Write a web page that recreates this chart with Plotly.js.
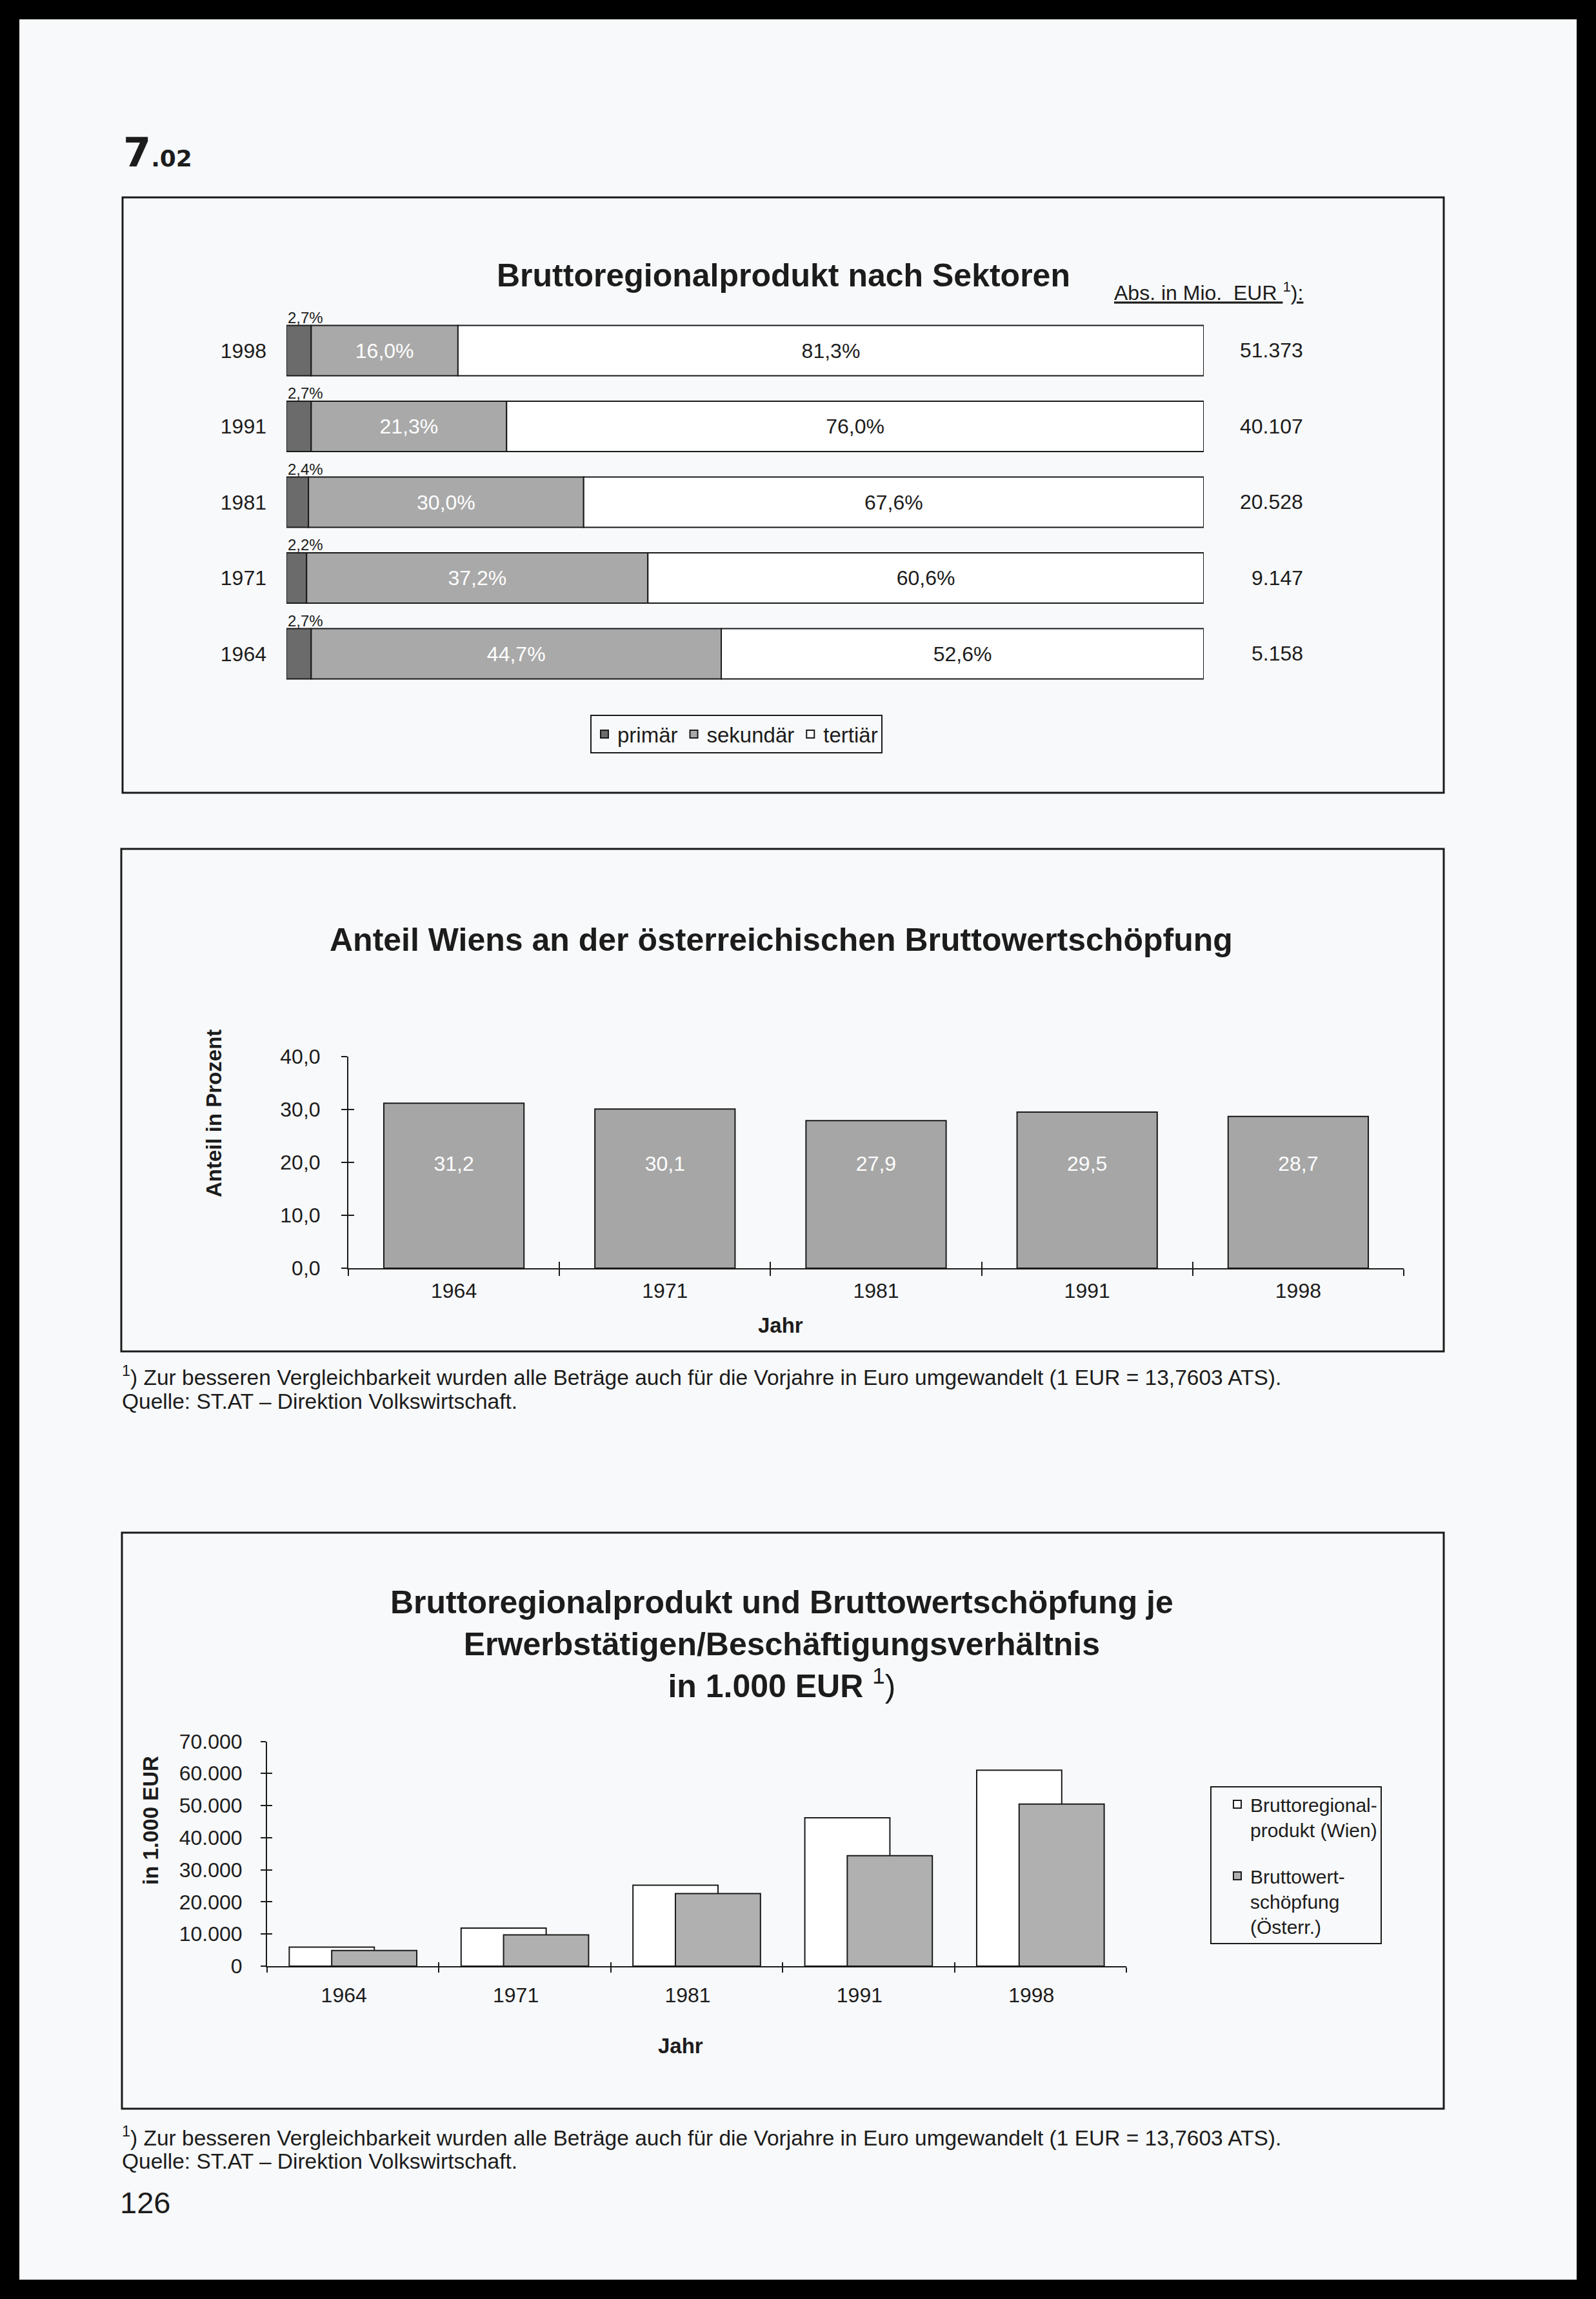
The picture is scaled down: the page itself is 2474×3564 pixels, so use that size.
<!DOCTYPE html>
<html>
<head>
<meta charset="utf-8">
<script src="https://cdn.plot.ly/plotly-3.0.1.min.js"></script>
<style>
  html, body { margin: 0; padding: 0; background: #f8f9fa; }
  #chart { width: 2474px; height: 3564px; }
</style>
</head>
<body>
<div id="chart"></div>
<script>
// ---------- DATA ----------
// Chart 1: Bruttoregionalprodukt nach Sektoren (shares in %)
const sectorYears = ['1964', '1971', '1981', '1991', '1998'];
const primaer   = [2.7, 2.2, 2.4, 2.7, 2.7];
const sekundaer = [44.7, 37.2, 30.0, 21.3, 16.0];
const tertiaer  = [52.6, 60.6, 67.6, 76.0, 81.3];
const absMioEur = [5158, 9147, 20528, 40107, 51373];
const sectorNames = ['primär', 'sekundär', 'tertiär'];

// Chart 2: Anteil Wiens an der österreichischen Bruttowertschöpfung (%)
const anteilYears = ['1964', '1971', '1981', '1991', '1998'];
const anteilWien  = [31.2, 30.1, 27.9, 29.5, 28.7];

// Chart 3: BRP und BWS je Erwerbstätigen (in 1.000 EUR)
const brpYears   = ['1964', '1971', '1981', '1991', '1998'];
const brpWien    = [5950, 11830, 25200, 46190, 61030];
const bwsOesterr = [4880, 9760, 22590, 34420, 50470];
const brpNames = ['Bruttoregional-<br>produkt (Wien)', 'Bruttowert-<br>schöpfung<br>(Österr.)'];

// ---------- HELPERS ----------
const W = 2474, H = 3564;
const px = v => v / W;
const py = v => 1 - v / H;
const FONT = 'Liberation Sans, Arial, Helvetica, sans-serif';
const INK = '#1c1c1c';
function fmtNum(v, dec) {
  const s = v.toFixed(dec);
  let [i, f] = s.split('.');
  i = i.replace(/\B(?=(\d{3})+(?!\d))/g, '.');
  return f ? i + ',' + f : i;
}
const LABEL_LEVEL = 19.4; // label height inside chart-2 bars (style)

// ---------- TRACES ----------
const base2 = primaer;
const base3 = primaer.map((p, i) => p + sekundaer[i]);
const barLine = { color: '#1a1a1a', width: 2 };

const traces = [
  // chart 1
  { type: 'bar', orientation: 'h', y: sectorYears, x: primaer, name: sectorNames[0],
    xaxis: 'x', yaxis: 'y', legend: 'legend',
    marker: { color: '#6b6b6b', line: barLine }, hoverinfo: 'skip' },
  { type: 'bar', orientation: 'h', y: sectorYears, x: sekundaer, base: base2, name: sectorNames[1],
    xaxis: 'x', yaxis: 'y', legend: 'legend',
    text: sekundaer.map(v => fmtNum(v, 1) + '%'), textposition: 'inside', insidetextanchor: 'middle',
    textangle: 0, constraintext: 'none', textfont: { color: '#ffffff', size: 32, family: FONT },
    marker: { color: '#a9a9a9', line: barLine }, hoverinfo: 'skip' },
  { type: 'bar', orientation: 'h', y: sectorYears, x: tertiaer, base: base3, name: sectorNames[2],
    xaxis: 'x', yaxis: 'y', legend: 'legend',
    text: tertiaer.map(v => fmtNum(v, 1) + '%'), textposition: 'inside', insidetextanchor: 'middle',
    textangle: 0, constraintext: 'none', textfont: { color: INK, size: 32, family: FONT },
    marker: { color: '#ffffff', line: barLine }, hoverinfo: 'skip' },
  // chart 2
  { type: 'bar', x: anteilYears, y: anteilWien, xaxis: 'x2', yaxis: 'y2', showlegend: false,
    marker: { color: '#a6a6a6', line: barLine }, hoverinfo: 'skip' },
  { type: 'scatter', mode: 'text', x: anteilYears, y: anteilYears.map(() => LABEL_LEVEL),
    text: anteilWien.map(v => fmtNum(v, 1)), textposition: 'middle center',
    textfont: { color: '#ffffff', size: 32, family: FONT },
    xaxis: 'x4', yaxis: 'y4', showlegend: false, hoverinfo: 'skip' },
  // chart 3
  { type: 'bar', x: brpYears, y: brpWien, name: brpNames[0], xaxis: 'x3', yaxis: 'y3',
    legend: 'legend2', legendgroup: 'a', width: 0.495, offset: -0.371,
    marker: { color: '#ffffff', line: barLine }, hoverinfo: 'skip' },
  { type: 'bar', x: brpYears, y: bwsOesterr, name: brpNames[1], xaxis: 'x5', yaxis: 'y5',
    legend: 'legend2', legendgroup: 'b', width: 0.495, offset: -0.124,
    marker: { color: '#b0b0b0', line: barLine }, hoverinfo: 'skip' }
];

// ---------- AXES ----------
const noAx = { showgrid: false, zeroline: false, showline: false, ticks: '', showticklabels: false };
const axLine = { showline: true, linecolor: '#1a1a1a', linewidth: 2, showgrid: false, zeroline: false,
                 tickcolor: '#1a1a1a', tickwidth: 2, tickfont: { size: 32, family: FONT, color: INK } };

const layout = {
  width: W, height: H,
  margin: { l: 0, r: 0, t: 0, b: 0, pad: 0 },
  paper_bgcolor: '#f8f9fa', plot_bgcolor: 'rgba(0,0,0,0)',
  font: { family: FONT, color: INK, size: 32 },
  separators: ',.',
  barmode: 'overlay', bargap: 0.336,
  hovermode: false,
  // chart 1
  xaxis: Object.assign({}, noAx, { domain: [px(444), px(1866)], range: [0, 100], autorange: false, anchor: 'y' }),
  yaxis: { domain: [py(1072.25), py(484.75)], anchor: 'x', type: 'category',
           categoryorder: 'array', categoryarray: sectorYears,
           range: [-0.5, sectorYears.length - 0.5], autorange: false,
           showgrid: false, zeroline: false, showline: false, ticks: '', ticklabelstandoff: 30,
           tickfont: { size: 32, family: FONT, color: INK } },
  // chart 2
  xaxis2: Object.assign({}, axLine, { domain: [px(540), px(2176)], anchor: 'y2', type: 'category',
           categoryarray: anteilYears, tickson: 'boundaries', ticks: 'outside', ticklen: 10, ticklabelstandoff: 6 }),
  yaxis2: Object.assign({}, axLine, { domain: [py(1966), py(1638)], anchor: 'x2', range: [0, 40],
           tick0: 0, dtick: 10, tickformat: '.1f', ticks: 'outside', ticklen: 9, ticklabelstandoff: 26 }),
  xaxis4: Object.assign({}, noAx, { overlaying: 'x2', matches: 'x2', anchor: 'y4', type: 'category',
           categoryarray: anteilYears, tickson: 'boundaries', ticks: 'inside', ticklen: 10, tickwidth: 2, tickcolor: '#1a1a1a' }),
  yaxis4: Object.assign({}, noAx, { overlaying: 'y2', matches: 'y2', anchor: 'x4',
           tick0: 0, dtick: 10, ticks: 'inside', ticklen: 9, tickwidth: 2, tickcolor: '#1a1a1a' }),
  // chart 3
  xaxis3: Object.assign({}, axLine, { domain: [px(414), px(1746)], anchor: 'y3', type: 'category',
           categoryarray: brpYears, tickson: 'boundaries', ticks: 'outside', ticklen: 8, ticklabelstandoff: 16,
           ticklabelshift: -14 }),
  yaxis3: Object.assign({}, axLine, { domain: [py(3048), py(2699.5)], anchor: 'x3', range: [0, 70000],
           tick0: 0, dtick: 10000, tickformat: ',d', ticks: 'outside', ticklen: 8, ticklabelstandoff: 22 }),
  xaxis5: Object.assign({}, noAx, { overlaying: 'x3', matches: 'x3', anchor: 'y5', type: 'category',
           categoryarray: brpYears, tickson: 'boundaries', ticks: 'inside', ticklen: 6, tickwidth: 2, tickcolor: '#1a1a1a' }),
  yaxis5: Object.assign({}, noAx, { overlaying: 'y3', matches: 'y3', anchor: 'x5',
           tick0: 0, dtick: 10000, ticks: 'inside', ticklen: 8, tickwidth: 2, tickcolor: '#1a1a1a' }),
  // legends
  legend: { x: px(915), y: py(1138), xanchor: 'left', yanchor: 'middle', orientation: 'h',
            bgcolor: 'rgba(0,0,0,0)', bordercolor: '#1a1a1a', borderwidth: 2,
            font: { size: 33, family: FONT, color: INK } },
  legend2: { x: px(1876), y: py(2769), xanchor: 'left', yanchor: 'top', orientation: 'v',
             valign: 'top', traceorder: 'grouped', tracegroupgap: 30, indentation: 20,
             bgcolor: 'rgba(0,0,0,0)', bordercolor: '#1a1a1a', borderwidth: 2,
             font: { size: 30, family: FONT, color: INK } },
  shapes: [
    // page frame
    { type: 'rect', xref: 'paper', yref: 'paper', x0: 0, x1: 1, y0: 0, y1: 1,
      line: { color: '#000000', width: 60 }, fillcolor: 'rgba(0,0,0,0)', layer: 'above' },
    // chart boxes
    { type: 'rect', xref: 'paper', yref: 'paper', x0: px(190), x1: px(2238), y0: py(1229), y1: py(306),
      line: { color: '#1a1a1a', width: 3 } },
    { type: 'rect', xref: 'paper', yref: 'paper', x0: px(188), x1: px(2238), y0: py(2095), y1: py(1316),
      line: { color: '#1a1a1a', width: 3 } },
    { type: 'rect', xref: 'paper', yref: 'paper', x0: px(189), x1: px(2238), y0: py(3269), y1: py(2376),
      line: { color: '#1a1a1a', width: 3 } }
  ],
  annotations: []
};

const ann = layout.annotations;
function addText(text, x, y, size, opts) {
  ann.push(Object.assign({ xref: 'paper', yref: 'paper', x: px(x), y: py(y), text: text, showarrow: false,
    xanchor: 'center', yanchor: 'middle', font: { size: size, family: FONT, color: INK } }, opts || {}));
}

// page heading
addText('<b>7</b><span style="font-size:36px"><b>.02</b></span>', 189, 236, 62,
  { xanchor: 'left', font: { size: 62, family: 'DejaVu Sans, Liberation Sans, sans-serif', color: INK } });

// chart 1
addText('<b>Bruttoregionalprodukt nach Sektoren</b>', 1214, 427, 50);
addText('<span style="text-decoration:underline">Abs. in Mio.  EUR </span><sup>1</sup><span style="text-decoration:underline">):</span>',
  2022, 452, 32, { xanchor: 'right' });
sectorYears.forEach((yr, i) => {
  // category index i on the category axis
  ann.push({ xref: 'x', yref: 'y', x: 0, y: i, yshift: 51, xanchor: 'left', yanchor: 'middle',
    text: fmtNum(primaer[i], 1) + '%', showarrow: false, font: { size: 24, family: FONT, color: INK } });
  ann.push({ xref: 'paper', yref: 'y', x: px(2022), y: i, xanchor: 'right', yanchor: 'middle',
    text: fmtNum(absMioEur[i], 0), showarrow: false, font: { size: 32, family: FONT, color: INK } });
});

// chart 2
addText('<b>Anteil Wiens an der österreichischen Bruttowertschöpfung</b>', 1211, 1457, 50);
addText('<b>Anteil in Prozent</b>', 331, 1726, 33, { textangle: -90 });
addText('<b>Jahr</b>', 1210, 2054, 33);
addText('<sup>1</sup>) Zur besseren Vergleichbarkeit wurden alle Beträge auch für die Vorjahre in Euro umgewandelt (1 EUR = 13,7603 ATS).',
  187, 2133, 33.5, { xanchor: 'left' });
addText('Quelle: ST.AT – Direktion Volkswirtschaft.', 187, 2172, 33.5, { xanchor: 'left' });

// chart 3
addText('<b>Bruttoregionalprodukt und Bruttowertschöpfung je<br>Erwerbstätigen/Beschäftigungsverhältnis<br>in 1.000 EUR</b> <sup>1</sup>)',
  1212, 2549, 50);
addText('<b>in 1.000 EUR</b>', 233, 2822, 33, { textangle: -90 });
addText('<b>Jahr</b>', 1055, 3171, 33);
addText('<sup>1</sup>) Zur besseren Vergleichbarkeit wurden alle Beträge auch für die Vorjahre in Euro umgewandelt (1 EUR = 13,7603 ATS).',
  187, 3312, 33.5, { xanchor: 'left' });
addText('Quelle: ST.AT – Direktion Volkswirtschaft.', 187, 3350, 33.5, { xanchor: 'left' });

// page number
addText('126', 184, 3414, 47, { xanchor: 'left' });

Plotly.newPlot('chart', traces, layout, { staticPlot: true, displayModeBar: false });
</script>
</body>
</html>
